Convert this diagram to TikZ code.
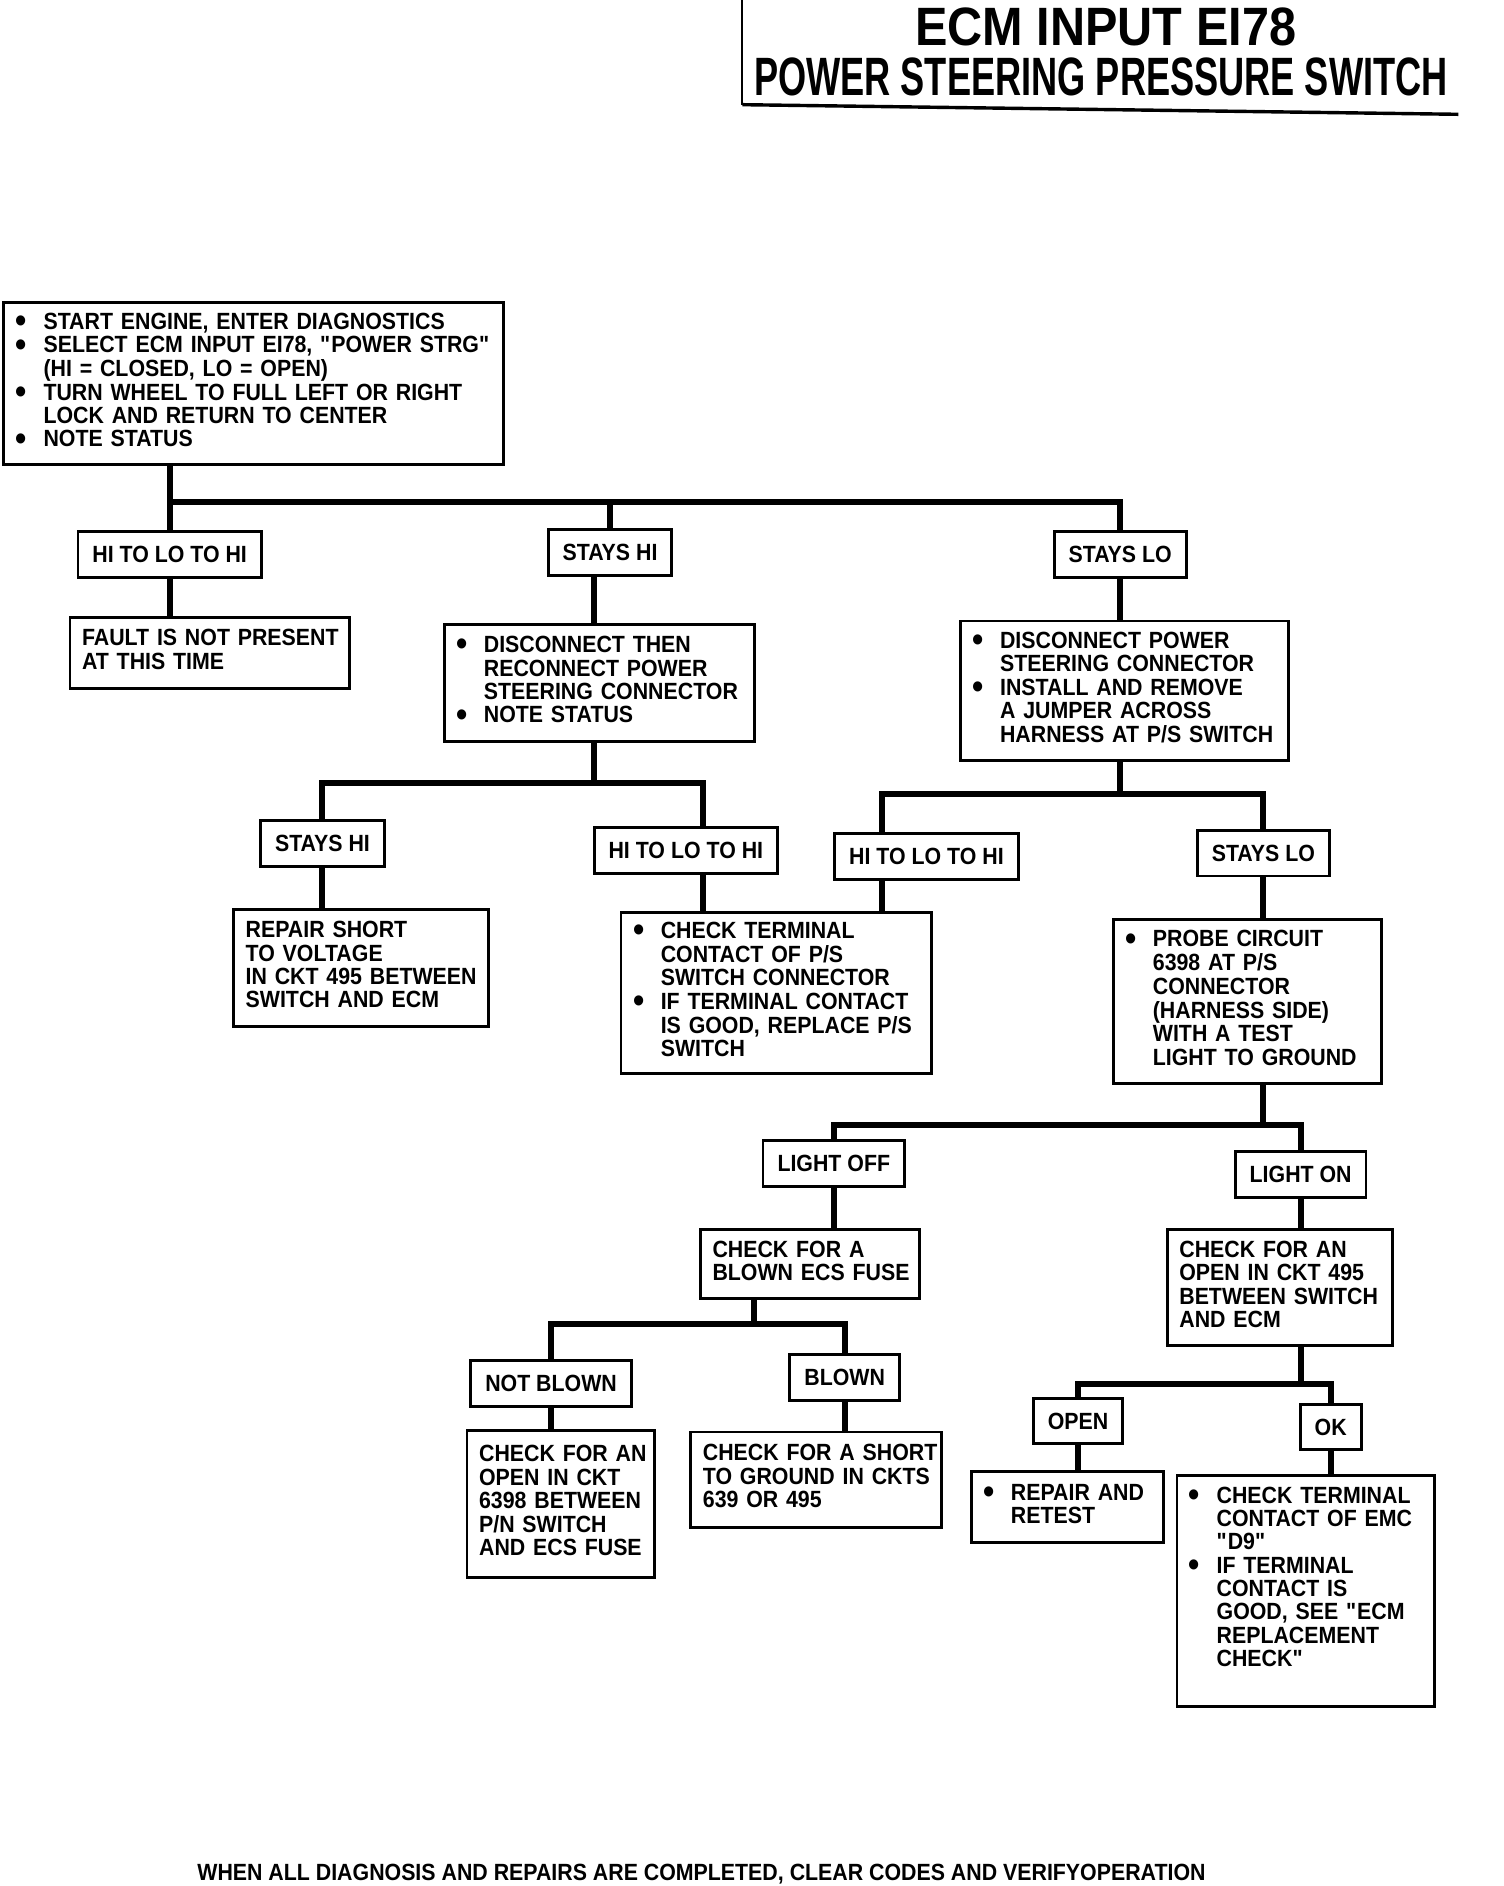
\documentclass[tikz,border=0pt]{standalone}
\usepackage{fontspec}
\setmainfont{Liberation Sans}[FakeStretch=0.91]
\newfontfamily\headfont{Liberation Sans}[FakeStretch=0.9]
\newfontfamily\subfont{Liberation Sans}[FakeStretch=0.67]
\newlength\px
\setlength\px{0.02976cm}
\newcommand\bodyfont{\fontsize{16.5pt}{16.4pt}\selectfont\bfseries}
\newcommand\bitem{\makebox[23\px][l]{\smash{\raisebox{-2.3pt}{\scalebox{1.5}{\textbullet}}}}}
\newcommand\bgap{\hspace*{23\px}}
\newcommand\rows[1]{\begin{tabular}{@{}l@{}}#1\end{tabular}}
\newcommand\q{\textquotedbl}

\begin{document}
\begin{tikzpicture}[x=0.02976cm,y=-0.02976cm,
    note/.style={draw,line width=2pt,anchor=north west,
      inner xsep=10\px,inner ysep=0pt,font=\bodyfont},
    tag/.style={draw,line width=2pt,inner xsep=12\px,minimum height=38\px,font=\bodyfont},
    link/.style={line width=4.2pt}]
    \useasboundingbox (0,0) rectangle (1250,1567.5);
    % title
    \draw[line width=1.4pt] (617,0) -- (617,87);
    \draw[line width=2.4pt] (617,87) -- (1212,95);
    \node[inner sep=0pt,font=\headfont\bfseries\fontsize{38pt}{40pt}\selectfont] (ttl) at (919,22) {ECM INPUT EI78};
    \node[inner sep=0pt,font=\subfont\bfseries\fontsize{38pt}{40pt}\selectfont] (sub) at (915,64) {POWER STEERING PRESSURE SWITCH};
    % first level
    \node[note,text width=395\px,minimum height=135\px] (start) at (2,250) {\rows{\bitem START ENGINE, ENTER DIAGNOSTICS\\
      \bitem SELECT ECM INPUT EI78, \q POWER STRG\q\\ \bgap (HI = CLOSED, LO = OPEN)\\
      \bitem TURN WHEEL TO FULL LEFT OR RIGHT\\ \bgap LOCK AND RETURN TO CENTER\\
      \bitem NOTE STATUS}};
    \node[tag] (hilo) at (141,461) {HI TO LO TO HI};
    \node[tag] (shi) at (507,459) {STAYS HI};
    \node[tag] (slo) at (931,461) {STAYS LO};
    \node[note,text width=212\px,minimum height=59\px] (fault) at (57,512) {\rows{FAULT IS NOT PRESENT\\ AT THIS TIME}};
    \node[note,text width=238\px,minimum height=97\px] (dis1) at (368,518) {\rows{\bitem DISCONNECT THEN\\
      \bgap RECONNECT POWER\\ \bgap STEERING CONNECTOR\\ \bitem NOTE STATUS}};
    \node[note,text width=253\px,minimum height=116\px] (dis2) at (797,515) {\rows{\bitem DISCONNECT POWER\\
      \bgap STEERING CONNECTOR\\ \bitem INSTALL AND REMOVE\\ \bgap A JUMPER ACROSS\\
      \bgap HARNESS AT P/S SWITCH}};
    % second level
    \coordinate (c1) at (494,0);
    \coordinate (c2) at (584,0);
    \coordinate (c3) at (733,0);
    \node[tag] (shi2) at (268,701) {STAYS HI};
    \node[tag] (hilo2) at (570,707) {HI TO LO TO HI};
    \node[tag] (hilo3) at (770,712) {HI TO LO TO HI};
    \node[tag] (slo3) at (1050,709) {STAYS LO};
    \node[note,text width=192\px,minimum height=97\px] (rep) at (193,755) {\rows{REPAIR SHORT\\ TO VOLTAGE\\
      IN CKT 495 BETWEEN\\ SWITCH AND ECM}};
    \node[note,text width=238\px,minimum height=134\px] (chk) at (515,757) {\rows{\bitem CHECK TERMINAL\\
      \bgap CONTACT OF P/S\\ \bgap SWITCH CONNECTOR\\ \bitem IF TERMINAL CONTACT\\
      \bgap IS GOOD, REPLACE P/S\\ \bgap SWITCH}};
    \node[note,text width=203\px,minimum height=136\px] (probe) at (924,763) {\rows{\bitem PROBE CIRCUIT\\
      \bgap 6398 AT P/S\\ \bgap CONNECTOR\\ \bgap (HARNESS SIDE)\\ \bgap WITH A TEST\\
      \bgap LIGHT TO GROUND}};
    % third level
    \coordinate (c5) at (627,0);
    \node[tag] (loff) at (693,967) {LIGHT OFF};
    \node[tag] (lon) at (1081,976) {LIGHT ON};
    \node[note,text width=162\px,minimum height=57\px] (fuse) at (581,1021) {\rows{CHECK FOR A\\ BLOWN ECS FUSE}};
    \node[note,text width=167\px,minimum height=96\px] (cko) at (969,1021) {\rows{CHECK FOR AN\\
      OPEN IN CKT 495\\ BETWEEN SWITCH\\ AND ECM}};
    \node[tag] (nb) at (458,1150) {NOT BLOWN};
    \node[tag] (bl) at (702,1145) {BLOWN};
    \node[tag] (open) at (896,1181) {OPEN};
    \node[tag] (ok) at (1106,1186) {OK};
    \node[note,text width=136\px,minimum height=122\px] (nbx) at (387,1188) {\rows{CHECK FOR AN\\ OPEN IN CKT\\
      6398 BETWEEN\\ P/N SWITCH\\ AND ECS FUSE}};
    \node[note,text width=188\px,minimum height=79\px] (blx) at (573,1189) {\rows{CHECK FOR A SHORT\\
      TO GROUND IN CKTS\\ 639 OR 495}};
    \node[note,text width=140\px,minimum height=59\px] (rr) at (806,1222) {\rows{\bitem REPAIR AND\\ \bgap RETEST}};
    \node[note,text width=194\px,inner ysep=9.5\px] (okx) at (977,1225) {\rows{\bitem CHECK TERMINAL\\
      \bgap CONTACT OF EMC\\ \bgap \q D9\q\\ \bitem IF TERMINAL\\ \bgap CONTACT IS\\
      \bgap GOOD, SEE \q ECM\\ \bgap REPLACEMENT\\ \bgap CHECK\q\\[17.7\px]}};
    \node[font=\bodyfont,anchor=base] (foot) at (583,1563) {WHEN ALL DIAGNOSIS AND REPAIRS ARE COMPLETED, CLEAR CODES AND VERIFYOPERATION};
    % forks
    \coordinate (busA) at (0,417);
    \coordinate (busB) at (0,651);
    \coordinate (busC) at (0,660);
    \coordinate (busD) at (0,935);
    \coordinate (busE) at (0,1100);
    \coordinate (busF) at (0,1150);
    \draw[link] (start.south -| hilo.north) -- (hilo.north);
    \draw[link] (hilo.north |- busA) -| (slo.north);
    \draw[link] (shi.north |- busA) -- (shi.north);
    \draw[link] (c1 |- dis1.south) -- (c1 |- busB);
    \draw[link] (shi2.north) |- (c2 |- busB) -- (c2 |- hilo2.north);
    \draw[link] (dis2.south -| slo.south) -- (slo.south |- busC);
    \draw[link] (c3 |- hilo3.north) |- (slo3.north |- busC) -- (slo3.north);
    \draw[link] (probe.south -| slo3.south) -- (slo3.south |- busD);
    \draw[link] (loff.north) |- (lon.north |- busD) -- (lon.north);
    \draw[link] (c5 |- fuse.south) -- (c5 |- busE);
    \draw[link] (nb.north) |- (bl.north |- busE) -- (bl.north);
    \draw[link] (cko.south -| lon.south) -- (lon.south |- busF);
    \draw[link] (open.north) |- (ok.north |- busF) -- (ok.north);
    % single links
    \draw[link] (c1 |- shi.south) -- (c1 |- dis1.north);
    \draw[link] (c2 |- hilo2.south) -- (c2 |- chk.north);
    \draw[link] (c3 |- hilo3.south) -- (c3 |- chk.north);
    \foreach \a/\b in {hilo/fault,slo/dis2,shi2/rep,slo3/probe,loff/fuse,lon/cko,nb/nbx,bl/blx,open/rr,ok/okx}
      \draw[link] (\a.south) -- (\a.south |- \b.north);
\end{tikzpicture}
\end{document}
